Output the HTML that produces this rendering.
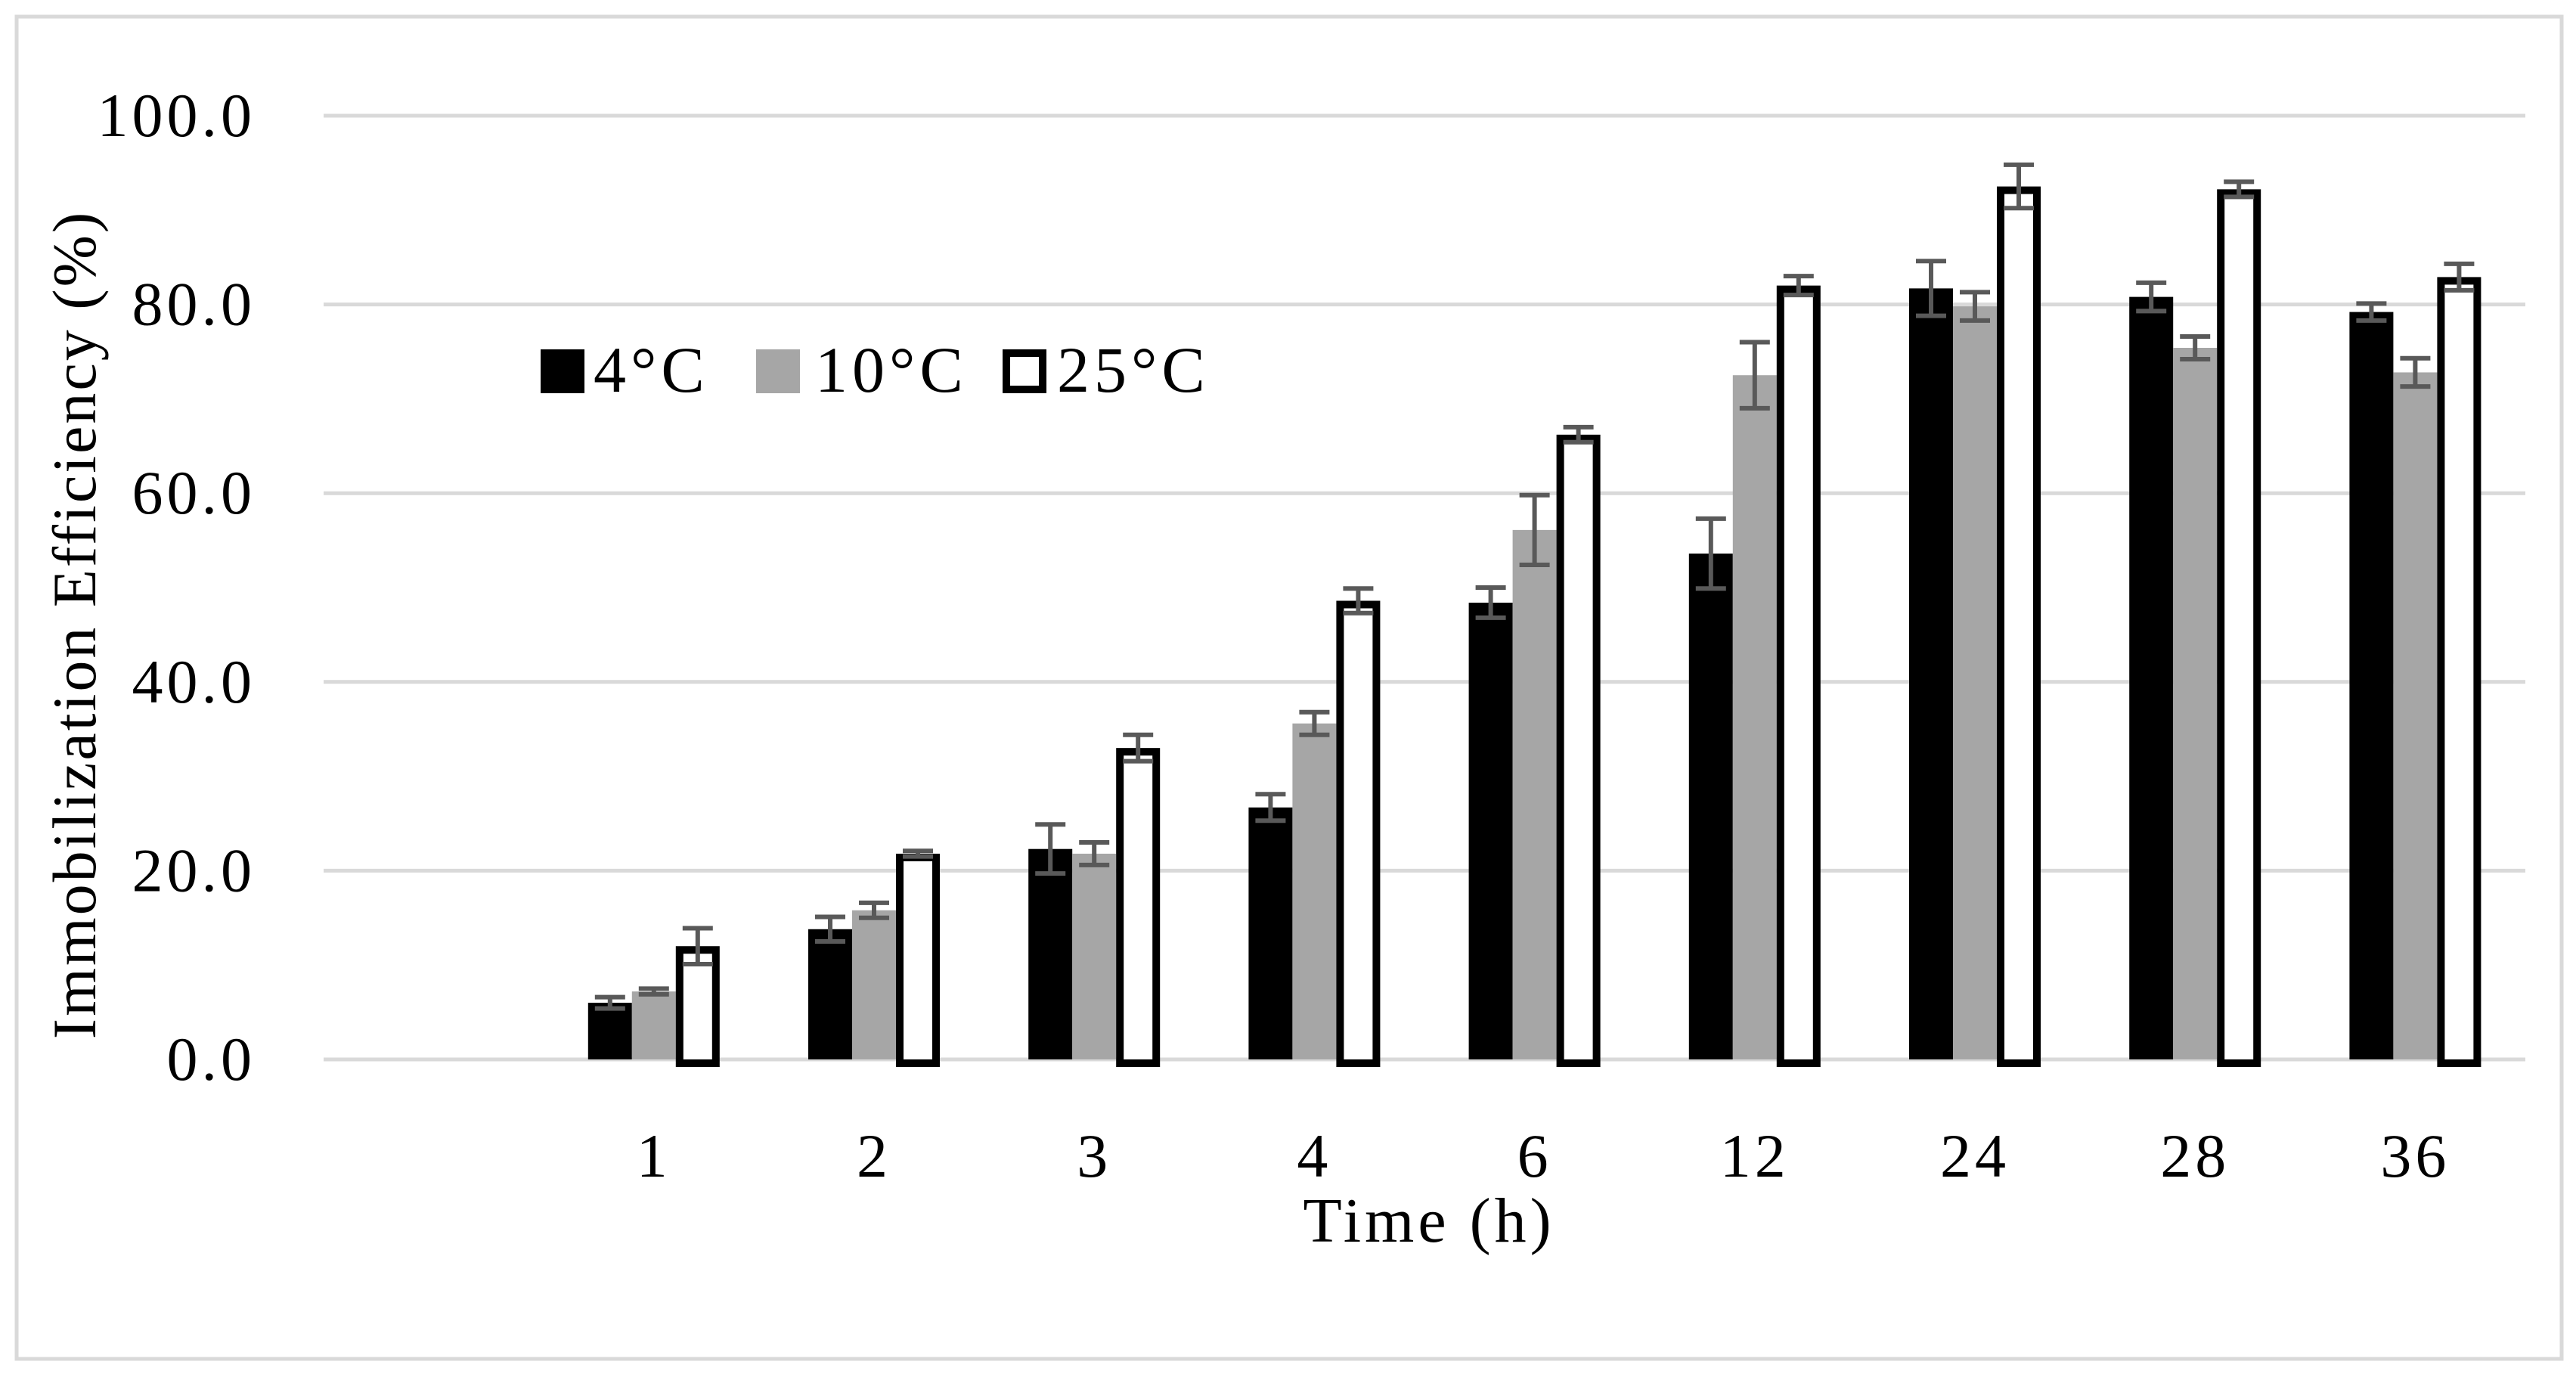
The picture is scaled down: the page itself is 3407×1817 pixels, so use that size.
<!DOCTYPE html>
<html><head><meta charset="utf-8"><style>
html,body{margin:0;padding:0;background:#fff;}
svg{display:block;font-family:"Liberation Serif",serif;}
</style></head><body>
<svg id="chart" width="3407" height="1817" viewBox="0 0 3407 1817">
<rect x="22" y="22" width="3366" height="1775" fill="#fff" stroke="#d9d9d9" stroke-width="5"/>
<g id="grid"></g><g id="bars"></g><g id="errs"></g><g id="labels"></g>
<text x="0" y="0" transform="translate(126,826) rotate(-90)" text-anchor="middle" font-size="82" letter-spacing="3">Immobilization Efficiency (%)</text>
<text x="1890" y="1642" text-anchor="middle" font-size="84" letter-spacing="5">Time (h)</text>
<g>
<rect x="715" y="462" width="58" height="58" fill="#000"/>
<text x="785" y="518" font-size="86" letter-spacing="6">4°C</text>
<rect x="1000" y="462" width="58" height="58" fill="#a6a6a6"/>
<text x="1078" y="518" font-size="86" letter-spacing="6">10°C</text>
<rect x="1331" y="467" width="48" height="48" fill="#fff" stroke="#000" stroke-width="10"/>
<text x="1398" y="518" font-size="86" letter-spacing="6">25°C</text>
</g>
</svg>
<script>
const categories=["","1","2","3","4","6","12","24","28","36"];
const s4=[null,6.0,13.8,22.3,26.7,48.4,53.6,81.7,80.8,79.2];
const s10=[null,7.2,15.8,21.8,35.6,56.1,72.5,79.8,75.4,72.8];
const s25=[null,12.0,21.8,33.0,48.6,66.2,82.0,92.5,92.2,82.9];
const e4=[0,0.6,1.3,2.6,1.4,1.6,3.7,2.9,1.5,0.9];
const e10=[0,0.3,0.8,1.2,1.2,3.7,3.5,1.5,1.2,1.5];
const e25=[0,1.9,0.3,1.4,1.3,0.8,1.0,2.3,0.8,1.4];
const yTicks=[0,20,40,60,80,100];
const ns="http://www.w3.org/2000/svg";
const X0=428,X1=3340,Y0=1401,Y100=153;
const band=(X1-X0)/categories.length;
const y=v=>Y0-(v/100)*(Y0-Y100);
const cx=i=>X0+band*(i+0.5);
function mk(tag,attrs,parent){const e=document.createElementNS(ns,tag);for(const k in attrs)e.setAttribute(k,attrs[k]);document.getElementById(parent).appendChild(e);return e;}
yTicks.forEach(t=>{
 const l=mk('line',{x1:X0,x2:X1,y1:y(t),y2:y(t),stroke:'#d9d9d9','stroke-width':5},'grid');
 
 
 const tx=mk('text',{x:338,y:y(t)+27,'text-anchor':'end','font-size':82,'letter-spacing':5},'labels');
 tx.textContent=t.toFixed(1);
 
 
});
const bw=58;
const series=[[s4,e4,'4c'],[s10,e10,'10c'],[s25,e25,'25c']];
categories.forEach((c,i)=>{
 if(c!==''){
  const tx=mk('text',{x:cx(i),y:1556,'text-anchor':'middle','font-size':82,'letter-spacing':5},'labels');
  tx.textContent=c;
  
  
 }
 series.forEach(([vals,errs,nm],k)=>{
  const v=vals[i]; if(v===null) return;
  const x=cx(i)+(k-1.5)*bw;
  let r;
  if(k<2){
   r=mk('rect',{x:x,y:y(v),width:bw,height:Y0-y(v),fill:k===0?'#000':'#a6a6a6'},'bars');
  } else {
   r=mk('rect',{x:x+5,y:y(v)+5,width:bw-10,height:Y0-y(v),fill:'#fff',stroke:'#000','stroke-width':10},'bars');
  }
  
  
  const ex=x+bw/2,eh=y(v+errs[i]),el=y(v-errs[i]);
  const g=mk('path',{d:`M${ex},${eh}V${el}M${ex-20},${eh}H${ex+20}M${ex-20},${el}H${ex+20}`,stroke:'#595959','stroke-width':6,fill:'none'},'errs');
  
  
 });
});
</script>
</body></html>
